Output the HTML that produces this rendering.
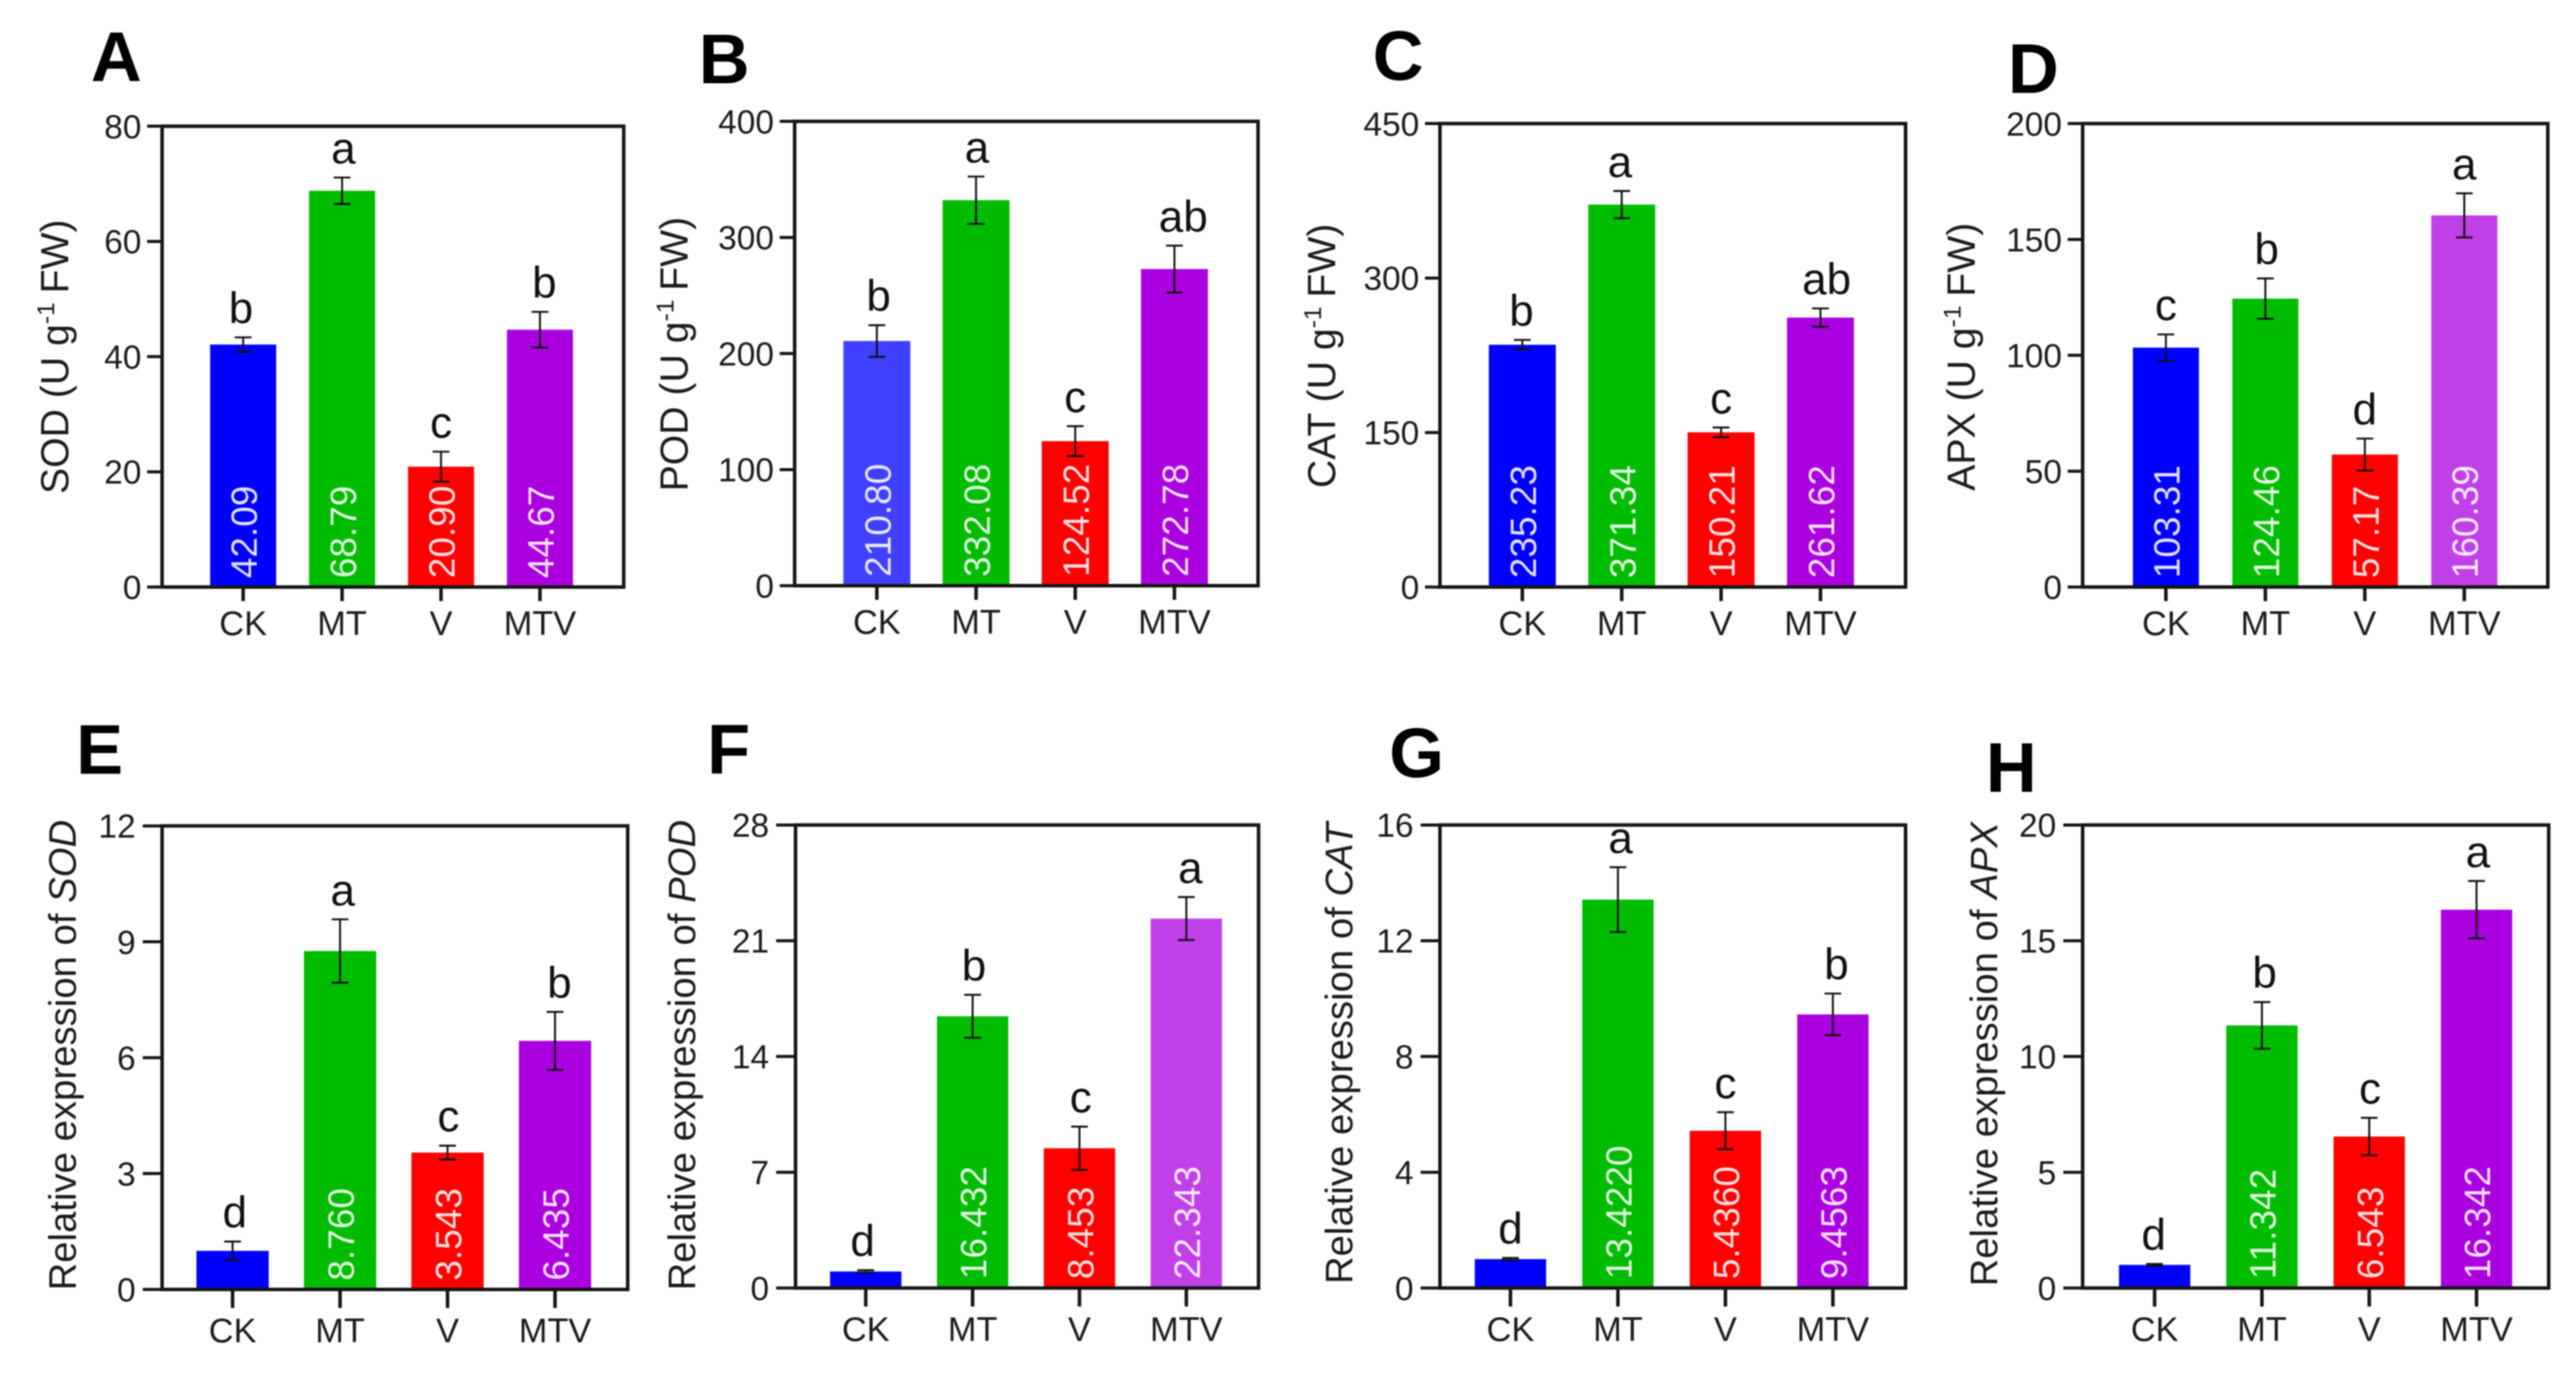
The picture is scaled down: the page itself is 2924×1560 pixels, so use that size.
<!DOCTYPE html>
<html lang="en">
<head>
<meta charset="utf-8">
<title>Antioxidant enzyme activity and relative gene expression</title>
<style>
  html, body { margin: 0; padding: 0; background: #ffffff; }
  #figure { display: block; width: 2924px; height: 1560px; filter: blur(0.9px); font-family: "Liberation Sans", Arial, sans-serif; }
  .panel-letter { font-size: 80px; font-weight: 700; fill: #000000; text-anchor: middle; }
  .y-title { font-size: 43.5px; fill: #1c1c1c; text-anchor: middle; }
  .y-title.activity { font-size: 44.5px; }
  .y-title .sup { font-size: 28px; }
  .tick-label { font-size: 38px; fill: #1c1c1c; text-anchor: end; }
  .cat-label { font-size: 39px; fill: #1c1c1c; text-anchor: middle; }
  .sig-letter { font-size: 50px; fill: #111111; text-anchor: middle; }
  .value-label { font-size: 42px; fill: #ffffff; fill-opacity: 0.88; text-anchor: start; }
</style>
</head>
<body>
<svg id="figure" xmlns="http://www.w3.org/2000/svg" width="2924" height="1560" viewBox="0 0 2924 1560">
  <rect x="0" y="0" width="2924" height="1560" fill="#ffffff"/>

  <g id="panel-a">
    <text class="panel-letter" x="132" y="92">A</text>
    <text class="y-title activity" transform="translate(77.5 405) rotate(-90)">SOD (U g<tspan class="sup" dy="-16">-1</tspan><tspan dy="16" dx="10">FW)</tspan></text>
  </g>
  <g id="panel-b">
    <text class="panel-letter" x="822" y="94.5">B</text>
    <text class="y-title activity" transform="translate(780.6 402) rotate(-90)">POD (U g<tspan class="sup" dy="-16">-1</tspan><tspan dy="16" dx="10">FW)</tspan></text>
  </g>
  <g id="panel-c">
    <text class="panel-letter" x="1587" y="90.5">C</text>
    <text class="y-title activity" transform="translate(1515.7 404) rotate(-90)">CAT (U g<tspan class="sup" dy="-16">-1</tspan><tspan dy="16" dx="10">FW)</tspan></text>
  </g>
  <g id="panel-d">
    <text class="panel-letter" x="2308" y="105.5">D</text>
    <text class="y-title activity" transform="translate(2241.7 405) rotate(-90)">APX (U g<tspan class="sup" dy="-16">-1</tspan><tspan dy="16" dx="10">FW)</tspan></text>
  </g>
  <g id="panel-e">
    <text class="panel-letter" x="113" y="878.5">E</text>
    <text class="y-title" transform="translate(86 1198) rotate(-90)">Relative expression of <tspan font-style="italic">SOD</tspan></text>
  </g>
  <g id="panel-f">
    <text class="panel-letter" x="827" y="878">F</text>
    <text class="y-title" transform="translate(789 1198) rotate(-90)">Relative expression of <tspan font-style="italic">POD</tspan></text>
  </g>
  <g id="panel-g">
    <text class="panel-letter" x="1608" y="882">G</text>
    <text class="y-title" transform="translate(1535 1196) rotate(-90)">Relative expression of <tspan font-style="italic">CAT</tspan></text>
  </g>
  <g id="panel-h">
    <text class="panel-letter" x="2283" y="899">H</text>
    <text class="y-title" transform="translate(2266.8 1197) rotate(-90)">Relative expression of <tspan font-style="italic">APX</tspan></text>
  </g>
</svg>

<script>
// ---- chart data ----
const categories = ['CK', 'MT', 'V', 'MTV'];

const sodActivityTicks = [0, 20, 40, 60, 80];
const sodActivityValues = [42.09, 68.79, 20.90, 44.67];
const sodActivityErrors = [1.25, 2.3, 2.6, 3.1];
const sodActivityPrinted = ['42.09', '68.79', '20.90', '44.67'];
const sodActivityLetters = ['b', 'a', 'c', 'b'];

const podActivityTicks = [0, 100, 200, 300, 400];
const podActivityValues = [210.80, 332.08, 124.52, 272.78];
const podActivityErrors = [13.6, 20.4, 12.9, 20.2];
const podActivityPrinted = ['210.80', '332.08', '124.52', '272.78'];
const podActivityLetters = ['b', 'a', 'c', 'ab'];

const catActivityTicks = [0, 150, 300, 450];
const catActivityValues = [235.23, 371.34, 150.21, 261.62];
const catActivityErrors = [4.7, 13.2, 4.7, 8.9];
const catActivityPrinted = ['235.23', '371.34', '150.21', '261.62'];
const catActivityLetters = ['b', 'a', 'c', 'ab'];

const apxActivityTicks = [0, 50, 100, 150, 200];
const apxActivityValues = [103.31, 124.46, 57.17, 160.39];
const apxActivityErrors = [5.7, 8.7, 6.9, 9.5];
const apxActivityPrinted = ['103.31', '124.46', '57.17', '160.39'];
const apxActivityLetters = ['c', 'b', 'd', 'a'];

const sodExpressionTicks = [0, 3, 6, 9, 12];
const sodExpressionValues = [1, 8.760, 3.543, 6.435];
const sodExpressionErrors = [0.24, 0.82, 0.18, 0.75];
const sodExpressionPrinted = ['', '8.760', '3.543', '6.435'];
const sodExpressionLetters = ['d', 'a', 'c', 'b'];

const podExpressionTicks = [0, 7, 14, 21, 28];
const podExpressionValues = [1, 16.432, 8.453, 22.343];
const podExpressionErrors = [0.08, 1.3, 1.31, 1.3];
const podExpressionPrinted = ['', '16.432', '8.453', '22.343'];
const podExpressionLetters = ['d', 'b', 'c', 'a'];

const catExpressionTicks = [0, 4, 8, 12, 16];
const catExpressionValues = [1, 13.4220, 5.4360, 9.4563];
const catExpressionErrors = [0.04, 1.12, 0.64, 0.72];
const catExpressionPrinted = ['', '13.4220', '5.4360', '9.4563'];
const catExpressionLetters = ['d', 'a', 'c', 'b'];

const apxExpressionTicks = [0, 5, 10, 15, 20];
const apxExpressionValues = [1, 11.342, 6.543, 16.342];
const apxExpressionErrors = [0.04, 1.01, 0.81, 1.24];
const apxExpressionPrinted = ['', '11.342', '6.543', '16.342'];
const apxExpressionLetters = ['d', 'b', 'c', 'a'];

// ---- panel layout (geometry and styling only) ----
const BLUE = '#0000ff', PALE_BLUE = '#4040ff', GREEN = '#00bc00', RED = '#ff0000', PURPLE = '#aa00e0', PALE_PURPLE = '#c040e8';
const topRow = { tickLen: 17, tickGap: 23.5, xTick: 16, catDrop: 54.5 };
const bottomRow = { tickLen: 22, tickGap: 30, xTick: 21, catDrop: 60 };

const panels = [
  { id: 'a', ticks: sodActivityTicks, values: sodActivityValues, errors: sodActivityErrors, printed: sodActivityPrinted, letters: sodActivityLetters,
    left: 184, right: 708, top: 143.3, bottom: 666.5, first: 276, step: 112.3, barW: 75, nudge: [-2.5, 1.5, 0, 5], fills: [BLUE, GREEN, RED, PURPLE], row: topRow },
  { id: 'b', ticks: podActivityTicks, values: podActivityValues, errors: podActivityErrors, printed: podActivityPrinted, letters: podActivityLetters,
    left: 902, right: 1428, top: 137.8, bottom: 665, first: 995.3, step: 112.6, barW: 76, nudge: [2, 1, 0, 10], fills: [PALE_BLUE, GREEN, RED, PURPLE], row: topRow },
  { id: 'c', ticks: catActivityTicks, values: catActivityValues, errors: catActivityErrors, printed: catActivityPrinted, letters: catActivityLetters,
    left: 1634.5, right: 2163, top: 140.3, bottom: 666.5, first: 1728, step: 112.8, barW: 76, nudge: [-1, -2, 0, 7], fills: [BLUE, GREEN, RED, PURPLE], row: topRow },
  { id: 'd', ticks: apxActivityTicks, values: apxActivityValues, errors: apxActivityErrors, printed: apxActivityPrinted, letters: apxActivityLetters,
    left: 2364, right: 2892, top: 140.3, bottom: 666.5, first: 2458.5, step: 112.9, barW: 75, nudge: [0, 1.5, 0, 0], fills: [BLUE, GREEN, RED, PALE_PURPLE], row: topRow },
  { id: 'e', ticks: sodExpressionTicks, values: sodExpressionValues, errors: sodExpressionErrors, printed: sodExpressionPrinted, letters: sodExpressionLetters,
    left: 184, right: 712.5, top: 937.7, bottom: 1464, first: 264, step: 122, barW: 82, nudge: [2.5, 3, 1, 5], fills: [BLUE, GREEN, RED, PURPLE], row: bottomRow },
  { id: 'f', ticks: podExpressionTicks, values: podExpressionValues, errors: podExpressionErrors, printed: podExpressionPrinted, letters: podExpressionLetters,
    left: 903, right: 1428.6, top: 936.7, bottom: 1462.4, first: 982.7, step: 121.3, barW: 81, nudge: [-3.5, 1.5, 1.5, 4.5], fills: [BLUE, GREEN, RED, PALE_PURPLE], row: bottomRow },
  { id: 'g', ticks: catExpressionTicks, values: catExpressionValues, errors: catExpressionErrors, printed: catExpressionPrinted, letters: catExpressionLetters,
    left: 1634.5, right: 2163, top: 936.7, bottom: 1462.4, first: 1714.5, step: 122, barW: 81, nudge: [0, 3, 0, 4], fills: [BLUE, GREEN, RED, PURPLE], row: bottomRow },
  { id: 'h', ticks: apxExpressionTicks, values: apxExpressionValues, errors: apxExpressionErrors, printed: apxExpressionPrinted, letters: apxExpressionLetters,
    left: 2364, right: 2893, top: 936.7, bottom: 1462.4, first: 2445.7, step: 121.8, barW: 81, nudge: [-1, 3, 1, 1.5], fills: [BLUE, GREEN, RED, PURPLE], row: bottomRow }
];

const SVG_NS = 'http://www.w3.org/2000/svg';
const INK = '#161616';

function make(tag, parent, props, text) {
  const el = document.createElementNS(SVG_NS, tag);
  for (const key in props) el.setAttribute(key, props[key]);
  if (text !== undefined) el.textContent = text;
  parent.appendChild(el);
  return el;
}

function drawPanel(p) {
  const root = document.getElementById('panel-' + p.id);
  const yMax = p.ticks[p.ticks.length - 1];
  const yScale = v => p.bottom - (v / yMax) * (p.bottom - p.top);
  const xScale = i => p.first + i * p.step;

  // bars
  categories.forEach((cat, i) => {
    const bar = make('rect', root, {
      x: xScale(i) - p.barW / 2,
      y: yScale(p.values[i]),
      width: p.barW,
      height: p.bottom - yScale(p.values[i]),
      fill: p.fills[i]
    });
    
    
  });

  // printed values inside the bars
  categories.forEach((cat, i) => {
    if (!p.printed[i]) return;
    const label = make('text', root, {
      class: 'value-label',
      transform: 'translate(' + (xScale(i) + 15.5) + ' ' + (p.bottom - 10) + ') rotate(-90)'
    }, p.printed[i]);
    
    
  });

  // plot frame
  const frame = make('rect', root, {
    x: p.left, y: p.top, width: p.right - p.left, height: p.bottom - p.top,
    fill: 'none', stroke: INK, 'stroke-width': 4
  });
  
  

  // y ticks
  p.ticks.forEach(t => {
    const tick = make('line', root, {
      x1: p.left - p.row.tickLen, x2: p.left, y1: yScale(t), y2: yScale(t),
      stroke: INK, 'stroke-width': 3.5
    });
    
    
    const tickText = make('text', root, {
      class: 'tick-label', x: p.left - p.row.tickGap, y: yScale(t) + 13.5
    }, String(t));
    
    
  });

  // x ticks, categories, error bars, significance letters
  categories.forEach((cat, i) => {
    const cx = xScale(i);
    const xTick = make('line', root, {
      x1: cx, x2: cx, y1: p.bottom, y2: p.bottom + p.row.xTick,
      stroke: INK, 'stroke-width': 4
    });
    
    

    const catText = make('text', root, {
      class: 'cat-label', x: cx, y: p.bottom + p.row.catDrop
    }, cat);
    
    

    const hi = yScale(p.values[i] + p.errors[i]);
    const lo = yScale(p.values[i] - p.errors[i]);
    const errorPath = make('path', root, {
      d: 'M' + (cx - 9.5) + ' ' + hi + 'H' + (cx + 9.5) + 'M' + cx + ' ' + hi + 'V' + lo + 'M' + (cx - 9.5) + ' ' + lo + 'H' + (cx + 9.5),
      fill: 'none', stroke: '#111111', 'stroke-width': 2.2
    });
    
    

    const sig = make('text', root, {
      class: 'sig-letter', x: cx + p.nudge[i], y: hi - 16
    }, p.letters[i]);
    
    
  });
}

panels.forEach(drawPanel);
</script>
</body>
</html>
